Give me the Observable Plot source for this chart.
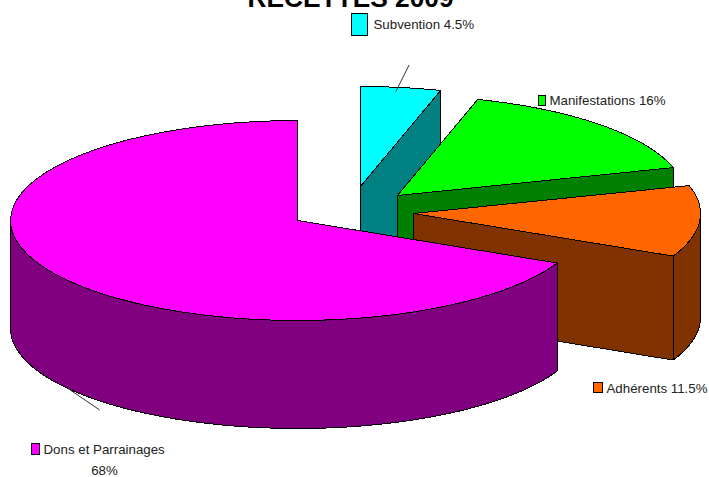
<!DOCTYPE html>
<html>
<head>
<meta charset="utf-8">
<script src="https://cdn.jsdelivr.net/npm/d3@7"></script>
<script src="https://cdn.jsdelivr.net/npm/@observablehq/plot@0.6"></script>
<style>html,body{margin:0;padding:0;background:#fff;overflow:hidden}svg{display:block}</style>
</head>
<body>
<div id="chart"></div>
<script>
// Data
const categories = ["Subvention", "Manifestations", "Adhérents", "Dons et Parrainages"];
const shares = [4.5, 16, 11.5, 68];
const percentLabels = ["4.5%", "16%", "11.5%", "68%"];
const titleText = "RECETTES 2009";

// Styles and layout
const topColors = ["#00ffff", "#00ff00", "#ff6600", "#ff00ff"];
const wallColors = ["#008080", "#008000", "#803300", "#800080"];
const explodeX = [63, 100, 116, 0];
const explodeY = [-34, -25, -7, 0];
const depths = [108, 108, 104, 108];
const cx = 297, cy = 220, rx = 287, ry = 100;
const W = 709, H = 477;

const rad = d => d * Math.PI / 180;
let acc = 0;
const slices = shares.map((v, i) => {
  const a0 = acc; acc += v / 100 * 360;
  return {i, a0, a1: acc, ax: cx + explodeX[i], ay: cy + explodeY[i], depth: depths[i]};
});
const rim = (s, a, dz = 0) => ({x: s.ax + rx * Math.sin(rad(a)), y: s.ay - ry * Math.cos(rad(a)) + dz});
const arc = (s, a0, a1, dz = 0) => d3.range(0, 61).map(k => rim(s, a0 + (a1 - a0) * k / 60, dz));

const poly = (pts, fill) => Plot.line(pts, {x: "x", y: "y", fill, stroke: "#000", strokeWidth: 1, curve: "linear-closed", shapeRendering: "crispEdges"});

const marks = [];
for (const s of slices) {
  // radial end face, visible on the three detached slices
  if (s.i < 3) {
    const e = rim(s, s.a1);
    marks.push(poly([{x: s.ax, y: s.ay}, e, {x: e.x, y: e.y + s.depth}, {x: s.ax, y: s.ay + s.depth}], wallColors[s.i]));
  }
  // outer wall, front half only
  const w0 = Math.max(s.a0, 90), w1 = Math.min(s.a1, 270);
  if (w1 > w0) marks.push(poly([...arc(s, w0, w1), ...arc(s, w1, w0, s.depth)], wallColors[s.i]));
  // top
  marks.push(poly([{x: s.ax, y: s.ay}, ...arc(s, s.a0, s.a1)], topColors[s.i]));
}

// Leader lines
const lead = (s, a, dz, dx, dy) => {
  const p = rim(s, a, dz);
  return Plot.line([p, {x: p.x + dx, y: p.y + dy}], {x: "x", y: "y", stroke: "#333", strokeWidth: 1});
};
marks.push(lead(slices[0], (slices[0].a0 + slices[0].a1) / 2 - 1, 4, 13, -26));
marks.push(lead(slices[3], 233, slices[3].depth, 31, 21));

// Legend
const legend = [
  {x1: 351.5, x2: 367, y1: 13.5, y2: 35, tx: 373, ty: 24},
  {x1: 538, x2: 545.5, y1: 95, y2: 105.5, tx: 549, ty: 100.5},
  {x1: 593.5, x2: 602, y1: 382.5, y2: 392.5, tx: 606, ty: 388},
  {x1: 31.5, x2: 39, y1: 443.5, y2: 454, tx: 43, ty: 449.5}
];
const labelSize = 13.3;
legend.forEach((l, i) => {
  marks.push(Plot.rect([l], {x1: "x1", x2: "x2", y1: "y1", y2: "y2", fill: topColors[i], stroke: "#000", strokeWidth: 1, shapeRendering: "crispEdges"}));
  const label = i === 3 ? categories[i] : `${categories[i]} ${percentLabels[i]}`;
  marks.push(Plot.text([l], {x: "tx", y: "ty", text: () => label, textAnchor: "start", fontSize: labelSize, fill: "#222", fontFamily: "Liberation Sans"}));
});
marks.push(Plot.text([{x: 104, y: 470}], {x: "x", y: "y", text: () => percentLabels[3], fontSize: labelSize, fill: "#222", fontFamily: "Liberation Sans"}));

// Title, clipped by the top of the picture as in the original
marks.push(Plot.text([{x: 350, y: 6}], {x: "x", y: "y", text: () => titleText, fontSize: 26.3, fontWeight: "bold", fill: "#000", lineAnchor: "bottom", fontFamily: "Liberation Sans"}));

const chart = Plot.plot({
  width: W, height: H, margin: 0,
  x: {domain: [0, W], range: [0, W], axis: null},
  y: {domain: [0, H], range: [0, H], axis: null},
  style: {background: "#fff"},
  marks
});
document.getElementById("chart").appendChild(chart);
</script>
</body>
</html>
